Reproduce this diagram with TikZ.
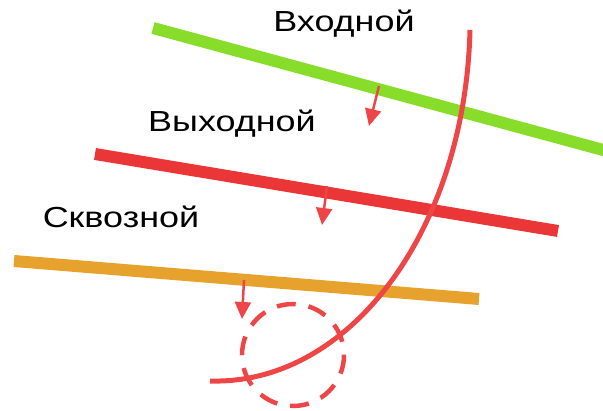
\documentclass[tikz,border=0pt]{standalone}
\usepackage{fontspec}
\setmainfont{Liberation Sans}
\newfontfamily\widesans[FakeStretch=1.24]{Liberation Sans}
\usetikzlibrary{arrows.meta}

\definecolor{lgreen}{HTML}{88DD2A}
\definecolor{lred}{HTML}{EA3636}
\definecolor{cred}{HTML}{EE4646}
\definecolor{lorange}{HTML}{E6A22C}

\tikzset{
  band/.style={line width=12pt},
  label/.style={anchor=base, font=\widesans\fontsize{29}{33}\selectfont, inner sep=0pt},
  ray/.style={cred, line width=5pt},
  normal/.style={cred, line width=2.5pt, -{Triangle[length=17pt,width=16pt]}},
  zone/.style={cred, line width=4.5pt, dash pattern=on 19pt off 13pt}
}

\begin{document}
\begin{tikzpicture}[x=1pt, y=-1pt]
  \useasboundingbox (0,0) rectangle (603,411);

  % the three interfaces
  \coordinate (g1) at (153,28);  \coordinate (g2) at (605,150.5);
  \coordinate (r1) at (95,154);  \coordinate (r2) at (558,231);
  \coordinate (o1) at (14,261);  \coordinate (o2) at (479,299);
  \draw[band, lgreen] (g1) -- (g2);
  \draw[band, lred] (r1) -- (r2);
  \draw[band, lorange] (o1) -- (o2);

  % labels
  \node[label] (lin)  at (344,32)  {Входной};
  \node[label] (lout) at (232,132) {Выходной};
  \node[label] (lthr) at (121,228) {Сквозной};

  % normals on each interface
  \coordinate (n1a) at (379,86);  \coordinate (n1b) at (369,126);
  \coordinate (n2a) at (327,186); \coordinate (n2b) at (322,225);
  \coordinate (n3a) at (244,280); \coordinate (n3b) at (242,319);
  \draw[normal] (n1a) -- (n1b);
  \draw[normal] (n2a) -- (n2b);
  \draw[normal] (n3a) -- (n3b);

  % dashed zone
  \coordinate (zc) at (293,355);
  \draw[zone] (zc) circle[radius=51];

  % ray crossing all interfaces
  \coordinate (ray0) at (470,30);
  \coordinate (ray1) at (210,381);
  \draw[ray] (ray0) .. controls (465,230) and (350,385) .. (ray1);
\end{tikzpicture}
\end{document}
